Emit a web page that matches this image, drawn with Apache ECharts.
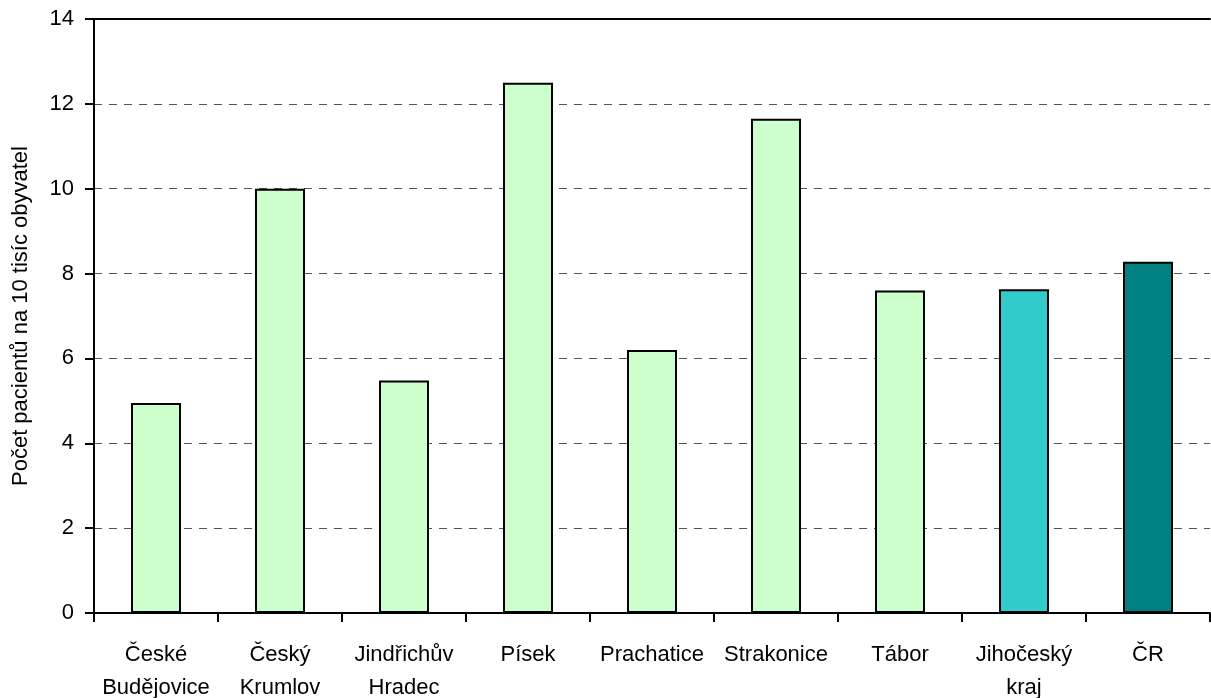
<!DOCTYPE html>
<html>
<head>
<meta charset="utf-8">
<title>Počet pacientů</title>
<script src="https://cdn.jsdelivr.net/npm/echarts@6/dist/echarts.min.js"></script>
<style>
  html, body { margin: 0; padding: 0; background: #fff; }
  #main { width: 1211px; height: 698px; }
</style>
</head>
<body>
<div id="main"></div>
<script>
// kategorie (okresy, kraj, CR)
var categories = ['České\nBudějovice', 'Český\nKrumlov', 'Jindřichův\nHradec', 'Písek', 'Prachatice',
                  'Strakonice', 'Tábor', 'Jihočeský\nkraj', 'ČR'];
// pocet pacientu na 10 tisic obyvatel
var values = [4.95, 10.0, 5.48, 12.5, 6.2, 11.65, 7.6, 7.63, 8.28];
var barColors = ['#CCFFCC', '#CCFFCC', '#CCFFCC', '#CCFFCC', '#CCFFCC',
                 '#CCFFCC', '#CCFFCC', '#33CCCC', '#008080'];
var yTicks = { min: 0, max: 14, step: 2 };
var yName = 'Počet pacientů na 10 tisíc obyvatel';

var font = "'Liberation Sans', Arial, sans-serif";

var data = [];
for (var i = 0; i < values.length; i++) {
    data.push({ value: values[i], itemStyle: { color: barColors[i] } });
}

var option = {
    animation: false,
    textStyle: { fontFamily: font },
    grid: { left: 94, right: 1, top: 19, bottom: 85, outerBoundsMode: 'none' },
    xAxis: [{
        type: 'category',
        data: categories,
        axisLine: { lineStyle: { color: '#000', width: 2 } },
        axisTick: { show: true, length: 9, lineStyle: { color: '#000', width: 2 } },
        axisLabel: { color: '#000', fontSize: 22, fontFamily: font, margin: 25, lineHeight: 33, interval: 0 }
    }, {
        // horni okraj plochy grafu
        type: 'category',
        position: 'top',
        data: categories,
        axisLine: { show: true, lineStyle: { color: '#000', width: 2 } },
        axisTick: { show: false },
        axisLabel: { show: false }
    }],
    yAxis: {
        type: 'value',
        min: yTicks.min, max: yTicks.max, interval: yTicks.step,
        name: yName,
        nameLocation: 'middle',
        nameGap: 62,
        nameTextStyle: { color: '#000', fontSize: 22, fontFamily: font },
        axisLine: { show: true, lineStyle: { color: '#000', width: 2 } },
        axisTick: { show: true, length: 9, lineStyle: { color: '#000', width: 2 } },
        axisLabel: { color: '#000', fontSize: 22, fontFamily: font, margin: 20 },
        splitLine: { show: true, lineStyle: { color: '#555', type: [8, 7], width: 1 } }
    },
    series: [{
        type: 'bar',
        data: data,
        barWidth: 50,
        itemStyle: { borderColor: '#000', borderWidth: 2 }
    }]
};

var myChart = echarts.init(document.getElementById('main'));
myChart.setOption(option);
</script>
</body>
</html>
